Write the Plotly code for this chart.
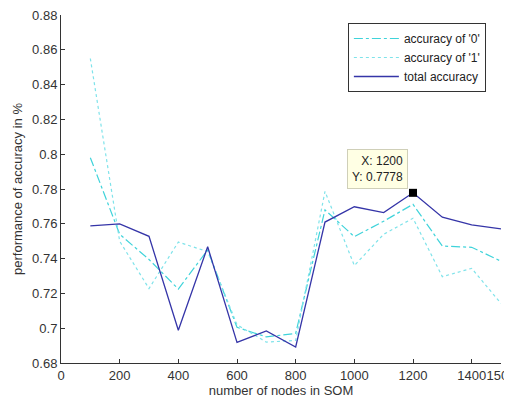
import plotly.graph_objects as go

nodes = [100, 200, 300, 400, 500, 600, 700, 800, 900, 1000, 1100, 1200, 1300, 1400, 1500]
acc0 = [0.798, 0.754, 0.7395, 0.7225, 0.745, 0.7005, 0.695, 0.697, 0.768, 0.7526, 0.7615, 0.7712, 0.7472, 0.7465, 0.7385]
acc1 = [0.855, 0.750, 0.7228, 0.7495, 0.744, 0.702, 0.692, 0.693, 0.7786, 0.736, 0.754, 0.7632, 0.7296, 0.7344, 0.7142]
total = [0.7588, 0.760, 0.7528, 0.6988, 0.7468, 0.6918, 0.6984, 0.6892, 0.761, 0.7698, 0.7664, 0.7778, 0.7638, 0.7594, 0.7571]
x_ticks = [0, 200, 400, 600, 800, 1000, 1200, 1400, 1500]
y_ticks = [0.68, 0.70, 0.72, 0.74, 0.76, 0.78, 0.80, 0.82, 0.84, 0.86, 0.88]
y_tick_text = ["0.68", "0.7", "0.72", "0.74", "0.76", "0.78", "0.8", "0.82", "0.84", "0.86", "0.88"]
tip_x, tip_y = 1200, 0.7778

font_family = "Liberation Sans, Arial, sans-serif"

fig = go.Figure()
fig.add_trace(go.Scatter(x=nodes, y=acc0, mode="lines", name="accuracy of '0'",
                         line=dict(color="#3fd3da", width=1.2, dash="dashdot")))
fig.add_trace(go.Scatter(x=nodes, y=acc1, mode="lines", name="accuracy of '1'",
                         line=dict(color="#7fe3ea", width=1.2, dash="dot")))
fig.add_trace(go.Scatter(x=nodes, y=total, mode="lines", name="total accuracy",
                         line=dict(color="#3535a8", width=1.3)))
fig.add_trace(go.Scatter(x=[tip_x], y=[tip_y], mode="markers", showlegend=False,
                         marker=dict(symbol="square", size=8, color="black")))

fig.add_annotation(x=tip_x, y=tip_y, text="X: 1200<br>Y: 0.7778", showarrow=False,
                   xanchor="right", yanchor="bottom", xshift=-5, yshift=4, align="right",
                   bgcolor="#ffffe4", bordercolor="#cfcfb8", borderwidth=1, borderpad=4,
                   font=dict(family=font_family, size=12, color="#222"))

fig.update_layout(
    width=504, height=390,
    margin=dict(l=53, r=11, t=7, b=35),
    paper_bgcolor="white", plot_bgcolor="white",
    font=dict(family=font_family, size=13, color="#333"),
    showlegend=True,
    legend=dict(x=0.652, y=0.977, xanchor="left", yanchor="top",
                bgcolor="white", bordercolor="#333", borderwidth=1,
                font=dict(size=12, color="#222"), itemwidth=45,
                tracegroupgap=0),
)
fig.update_xaxes(range=[0, 1500], tickvals=x_ticks, ticktext=[str(v) for v in x_ticks],
                 showline=True, linecolor="#333", linewidth=1, ticks="inside", ticklen=4,
                 tickcolor="#333", showgrid=False, zeroline=False, automargin=False,
                 ticklabeloverflow="allow", tickangle=0,
                 title=dict(text="number of nodes in SOM", font=dict(size=13), standoff=0))
fig.update_yaxes(range=[0.68, 0.88], tickvals=y_ticks, ticktext=y_tick_text,
                 showline=True, linecolor="#333", linewidth=1, ticks="inside", ticklen=4,
                 tickcolor="#333", showgrid=False, zeroline=False, automargin=False,
                 ticklabeloverflow="allow",
                 title=dict(text="performance of accuracy in %", font=dict(size=13), standoff=6))

fig.write_html("out.html")
